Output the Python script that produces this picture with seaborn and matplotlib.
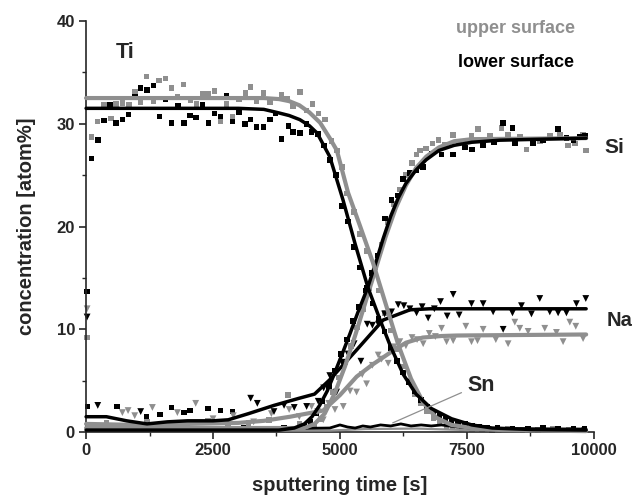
import numpy as np
import pandas as pd
import seaborn as sns
import matplotlib.pyplot as plt
from matplotlib.ticker import MultipleLocator

# ---- measured points (sputtering time [s], concentration [atom%]) ----
# Ti, upper surface (grey squares)
ti_up_x = [105, 223, 354, 486, 584, 720, 846, 958, 1076, 1194, 1325, 1437, 1568, 1680, 1800,
           1916, 2060, 2178, 2290, 2402, 2533, 2651, 2769, 2880, 3010, 3143, 3242, 3360, 3491,
           3622, 3852, 3960, 4081, 4213, 4344, 4460, 4580, 4705, 4836, 4947, 5040, 5131, 5280,
           5400, 5520, 5640, 5760, 5880, 6000, 6120, 6240, 6360, 6480, 6600, 6720, 6840, 6960,
           7100, 7220, 7400, 7600, 7800, 8000, 8300, 8600, 8900, 9200, 9500, 9800]
ti_up_y = [28.7, 30.2, 31.8, 30.5, 31.9, 32.0, 31.8, 33.1, 32.1, 34.6, 32.2, 34.2, 34.4, 33.5, 32.6,
           33.8, 32.3, 31.9, 32.9, 32.9, 33.2, 30.2, 31.9, 30.7, 32.4, 33.0, 33.6, 32.2, 33.0,
           32.1, 32.8, 32.4, 31.7, 33.1, 31.3, 31.9, 31.0, 30.4, 28.3, 27.4, 25.8, 23.2, 21.4,
           19.3, 17.6, 15.3, 13.8, 11.6, 9.9, 8.1, 6.4, 5.0, 3.7, 2.8, 2.0, 1.4, 1.0,
           0.6, 0.5, 0.4, 0.3, 0.3, 0.2, 0.3, 0.2, 0.2, 0.3, 0.2, 0.2]

# Ti, lower surface (black squares)
ti_lo_x = [105, 236, 354, 472, 591, 715, 833, 965, 1076, 1201, 1325, 1450, 1568, 1680, 1811,
           1929, 2047, 2165, 2297, 2408, 2533, 2651, 2769, 2880, 3012, 3130, 3242, 3360, 3491,
           3622, 3730, 3852, 3983, 4081, 4213, 4344, 4442, 4573, 4690, 4800, 4920, 5040, 5160,
           5280, 5400, 5520, 5640, 5760, 5880, 6000, 6120, 6240, 6360, 6480, 6600, 6720, 6840,
           6960, 7080, 7200, 7330, 7460, 7600, 7750, 7900, 8100, 8400, 8700, 9000, 9300, 9600, 9820]
ti_lo_y = [26.6, 28.4, 30.3, 31.8, 30.1, 30.4, 30.9, 32.6, 33.5, 33.3, 33.7, 30.7, 32.4, 30.1, 31.7,
           30.1, 30.8, 30.6, 31.8, 30.1, 31.0, 30.7, 32.7, 30.2, 31.1, 30.0, 30.4, 29.7, 29.7,
           30.4, 31.0, 28.5, 29.8, 29.2, 29.1, 30.0, 29.2, 29.0, 27.9, 26.5, 25.0, 22.0, 20.5,
           18.0, 16.0, 14.0, 12.5, 11.0, 9.8, 8.2, 6.9, 5.8, 4.9, 4.0, 3.1, 2.5, 2.0,
           1.6, 1.4, 1.1, 0.9, 0.8, 0.6, 0.5, 0.4, 0.4, 0.3, 0.3, 0.4, 0.3, 0.3, 0.3]

# Si, upper surface (grey squares)
si_up_x = [20, 400, 800, 1200, 1600, 2000, 2400, 2800, 3200, 3600, 3976, 4200, 4500, 4620,
           4740, 4860, 4980, 5100, 5220, 5340, 5460, 5580, 5700, 5820, 5940, 6060, 6180, 6300,
           6420, 6510, 6575, 6700, 6820, 6940, 7060, 7231, 7350, 7592, 7723, 7953, 8183, 8313,
           8543, 8675, 8937, 9134, 9331, 9494, 9626, 9790, 9843]
si_up_y = [9.2, 0.9, 0.6, 1.0, 0.7, 0.8, 1.1, 0.6, 0.9, 1.2, 3.6, 0.8, 0.6, 1.3,
           2.5, 3.9, 5.3, 6.8, 8.4, 10.2, 12.0, 14.0, 16.0, 18.2, 20.4, 22.2, 23.6, 25.0,
           26.2, 27.0, 27.4, 27.6, 28.1, 28.4, 28.0, 28.9, 28.2, 28.8, 29.5, 28.8, 29.6, 28.9,
           28.7, 27.5, 28.3, 28.8, 28.9, 27.9, 28.1, 28.9, 27.4]

# Si, lower surface (black squares)
si_lo_x = [20, 30, 604, 1194, 1457, 1680, 1929, 2047, 2402, 2651, 2880, 3100, 3500, 3900,
           4300, 4420, 4540, 4660, 4780, 4900, 5020, 5140, 5260, 5380, 5500, 5620, 5740, 5886,
           6017, 6130, 6246, 6378, 6510, 6640, 6805, 7002, 7231, 7461, 7600, 7821, 8031, 8215,
           8399, 8445, 8806, 9000, 9298, 9462, 9600, 9724, 9830]
si_lo_y = [13.7, 2.5, 2.5, 1.5, 1.7, 2.4, 1.9, 2.1, 2.3, 2.1, 2.0, 0.4, 0.3, 0.4,
           0.5, 1.0, 1.8, 3.0, 4.5, 6.0, 7.6, 9.0, 10.8, 12.2, 13.8, 15.5, 17.2, 20.8,
           22.6, 23.0, 24.6, 25.2, 25.5, 25.8, 27.1, 27.0, 27.0, 27.7, 27.5, 27.9, 28.2, 30.1,
           29.6, 28.1, 28.1, 28.4, 29.5, 28.6, 28.4, 28.7, 28.8]

# Na, upper surface (grey triangles)
na_up_x = [20, 715, 827, 958, 1306, 1798, 2159, 2500, 2900, 3300, 3650, 4000, 4200, 4442,
           4560, 4672, 4780, 4902, 5066, 5200, 5328, 5440, 5525, 5640, 5754, 5820, 5951, 6060,
           6180, 6300, 6420, 6520, 6640, 6760, 6880, 7002, 7101, 7231, 7480, 7592, 7710, 7821,
           8071, 8313, 8445, 8543, 8707, 9035, 9265, 9396, 9528, 9646, 9790]
na_up_y = [12.0, 1.9, 2.1, 1.6, 2.4, 1.9, 2.8, 1.3, 1.6, 1.0, 1.8, 2.2, 1.5, 2.5,
           2.0, 1.2, 2.8, 2.2, 2.5, 4.0, 3.9, 5.6, 4.7, 6.5, 7.5, 7.1, 6.7, 8.3,
           8.8, 8.4, 9.2, 9.0, 8.6, 9.6, 9.3, 10.1, 8.8, 8.9, 10.3, 8.8, 8.9, 10.0,
           9.0, 8.6, 10.7, 10.1, 9.8, 10.1, 9.7, 8.8, 10.7, 10.3, 9.1]

# Na, lower surface (black triangles)
na_lo_x = [20, 230, 1076, 3242, 3373, 3701, 3900, 4100, 4344, 4573, 4680, 4800, 4935, 5040,
           5160, 5280, 5413, 5538, 5640, 5760, 5880, 6017, 6148, 6260, 6378, 6510, 6620, 6738,
           6860, 6982, 7113, 7231, 7349, 7592, 7821, 8018, 8215, 8399, 8576, 8773, 8937, 9134,
           9298, 9462, 9659, 9843]
na_lo_y = [11.2, 2.6, 2.0, 3.3, 2.8, 2.0, 2.6, 2.4, 2.5, 3.0, 4.3, 5.5, 3.9, 6.8,
           7.6, 8.6, 6.9, 10.5, 10.4, 10.5, 11.5, 11.7, 12.4, 12.3, 12.0, 11.6, 12.2, 11.1,
           12.0, 12.7, 11.3, 13.4, 11.4, 12.5, 12.5, 11.7, 10.0, 11.6, 12.3, 11.5, 13.0, 11.7,
           11.6, 11.6, 12.5, 13.0]

# ---- fitted curves ----
ti_up_fit_x = [0, 3000, 3500, 3800, 4000, 4200, 4400, 4610, 4800, 4940, 5160, 5400, 5650,
               5900, 6150, 6400, 6650, 6900, 7200, 7600, 8200, 9850]
ti_up_fit_y = [32.5, 32.5, 32.5, 32.4, 32.2, 31.8, 31.1, 30.1, 28.6, 27.4, 23.3, 20.0, 16.5,
               12.5, 8.5, 5.2, 2.8, 1.4, 0.7, 0.4, 0.2, 0.1]
ti_lo_fit_x = [0, 3000, 3500, 3760, 4000, 4210, 4400, 4550, 4800, 5060, 5300, 5550, 5800,
               6000, 6250, 6500, 6800, 7200, 7600, 8000, 8800, 9850]
ti_lo_fit_y = [31.5, 31.5, 31.4, 31.1, 30.8, 30.4, 29.8, 29.1, 26.8, 22.6, 18.3, 14.1, 10.8,
               8.3, 5.6, 3.7, 2.3, 1.3, 0.7, 0.4, 0.25, 0.2]
si_up_fit_x = [0, 4300, 4500, 4700, 4900, 5100, 5300, 5500, 5700, 5900, 6100, 6300, 6500,
               6700, 6950, 7250, 7600, 9850]
si_up_fit_y = [0.4, 0.4, 0.8, 1.8, 3.8, 6.4, 9.4, 12.6, 15.8, 19.0, 21.8, 24.0, 25.7,
               26.8, 27.7, 28.3, 28.5, 28.6]
si_lo_fit_x = [0, 3800, 4100, 4300, 4450, 4600, 4750, 4900, 5060, 5200, 5350, 5550, 5700,
               5850, 6000, 6150, 6300, 6500, 6700, 6950, 7250, 7600, 8150, 9850]
si_lo_fit_y = [0.2, 0.2, 0.4, 0.8, 1.5, 2.6, 4.0, 5.8, 7.8, 9.6, 11.6, 14.1, 16.4,
               18.8, 21.0, 22.8, 24.2, 25.5, 26.5, 27.4, 27.9, 28.2, 28.4, 28.6]
na_up_fit_x = [0, 1000, 2000, 3000, 3500, 4020, 4670, 5000, 5330, 5650, 5980, 6300, 6630,
               7000, 7300, 9850]
na_up_fit_y = [0.8, 0.7, 0.8, 0.9, 1.1, 1.5, 2.1, 3.6, 5.4, 6.6, 7.7, 8.7, 9.2,
               9.35, 9.4, 9.5]
na_lo_fit_x = [0, 400, 800, 1200, 1600, 2000, 2500, 2800, 3200, 3700, 4200, 4500, 4800,
               5330, 5850, 6380, 6770, 9850]
na_lo_fit_y = [1.5, 1.5, 1.1, 0.8, 1.0, 1.1, 1.1, 1.2, 1.8, 2.6, 3.3, 3.7, 5.1,
               8.0, 10.9, 11.9, 12.0, 12.0]
sn_lo_x = [0, 1000, 2000, 3000, 4000, 4800, 5000, 5150, 5300, 5450, 5600, 5800, 6000, 6200,
           6400, 6600, 6800, 7000, 7300, 7600, 8000, 9850]
sn_lo_y = [0.3, 0.3, 0.35, 0.3, 0.35, 0.4, 0.7, 0.5, 0.4, 0.6, 0.5, 0.7, 0.6, 0.8,
           0.6, 0.7, 0.6, 0.7, 0.5, 0.4, 0.35, 0.3]
sn_up_x = [0, 4800, 5500, 6500, 7500, 9850]
sn_up_y = [0.15, 0.15, 0.3, 0.35, 0.2, 0.15]

GREY = '#8f8f8f'
BLACK = '#000000'

sns.set_style('ticks')
plt.rcParams['font.family'] = ['Liberation Sans', 'DejaVu Sans']
plt.rcParams['font.weight'] = 'bold'

fig, ax = plt.subplots(figsize=(6.33, 4.99), dpi=100)
fig.subplots_adjust(left=0.136, right=0.938, bottom=0.134, top=0.958)

# scatter points
pts = [
    (ti_up_x, ti_up_y, GREY, 's'), (si_up_x, si_up_y, GREY, 's'),
    (ti_lo_x, ti_lo_y, BLACK, 's'), (si_lo_x, si_lo_y, BLACK, 's'),
    (na_up_x, na_up_y, GREY, 'v'), (na_lo_x, na_lo_y, BLACK, 'v'),
]
for xs, ys, col, mk in pts:
    df = pd.DataFrame({'t': xs, 'c': ys})
    sns.scatterplot(data=df, x='t', y='c', ax=ax, color=col, marker=mk,
                    s=16 if mk == 's' else 24, edgecolor='none', zorder=2, clip_on=False)

# fitted curves
fits = [
    (sn_up_x, sn_up_y, GREY, 1.6), (sn_lo_x, sn_lo_y, BLACK, 2.0),
    (na_up_fit_x, na_up_fit_y, GREY, 3.0), (na_lo_fit_x, na_lo_fit_y, BLACK, 2.5),
    (si_up_fit_x, si_up_fit_y, GREY, 3.0), (si_lo_fit_x, si_lo_fit_y, BLACK, 2.5),
    (ti_up_fit_x, ti_up_fit_y, GREY, 3.0), (ti_lo_fit_x, ti_lo_fit_y, BLACK, 2.5),
]
for xs, ys, col, lw in fits:
    df = pd.DataFrame({'t': xs, 'c': ys})
    sns.lineplot(data=df, x='t', y='c', ax=ax, color=col, linewidth=lw,
                 zorder=3, clip_on=False)

ax.set_xlim(0, 10000)
ax.set_ylim(0, 40)
ax.xaxis.set_major_locator(MultipleLocator(2500))
ax.xaxis.set_minor_locator(MultipleLocator(1250))
ax.yaxis.set_major_locator(MultipleLocator(10))
ax.yaxis.set_minor_locator(MultipleLocator(5))
ax.tick_params(which='major', direction='out', length=5, width=1.2, labelsize=12, pad=3)
ax.tick_params(which='minor', direction='out', length=3, width=1.0)
for lab in ax.get_xticklabels() + ax.get_yticklabels():
    lab.set_fontweight('bold')
sns.despine(ax=ax)
for sp in ['left', 'bottom']:
    ax.spines[sp].set_linewidth(1.2)

ax.set_xlabel('sputtering time [s]', fontsize=14.5, fontweight='bold', labelpad=13)
ax.set_ylabel('concentration [atom%]', fontsize=14.5, fontweight='bold', labelpad=15)

# element labels and legend-like text
ax.text(770, 36.9, 'Ti', fontsize=15.5, fontweight='bold', ha='center', va='center')
ax.text(10413, 27.7, 'Si', fontsize=15, fontweight='bold', ha='center', va='center', clip_on=False)
ax.text(10512, 10.9, 'Na', fontsize=14.5, fontweight='bold', ha='center', va='center', clip_on=False)
ax.annotate('Sn', xy=(6040, 0.9), xytext=(7780, 4.5), fontsize=15.5, fontweight='bold',
            ha='center', va='center',
            arrowprops=dict(arrowstyle='-', color=GREY, lw=0.9, shrinkA=2, shrinkB=0,
                            relpos=(0.0, 0.3)))
ax.text(8465, 39.3, 'upper surface', fontsize=13, fontweight='bold', color=GREY,
        ha='center', va='center', clip_on=False)
ax.text(8465, 36.0, 'lower surface', fontsize=13, fontweight='bold', color=BLACK,
        ha='center', va='center')

fig.savefig('out.png', dpi=100)
